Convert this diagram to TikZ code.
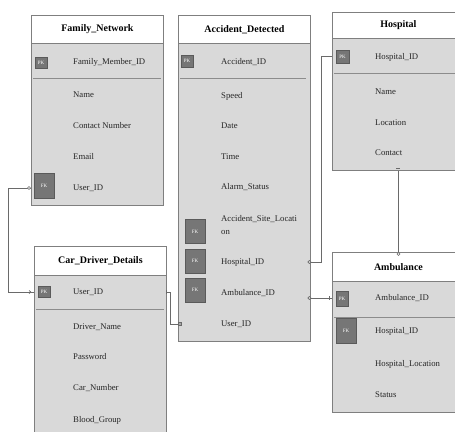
\documentclass[tikz,border=0pt]{standalone}
\usepackage{fontspec}
\setmainfont{Liberation Serif}
\usetikzlibrary{arrows.meta}
\definecolor{bodyfill}{HTML}{D9D9D9}
\definecolor{edgec}{HTML}{7F7F7F}
\definecolor{keyfill}{HTML}{767676}
\definecolor{keyedge}{HTML}{5A5A5A}
\definecolor{connc}{HTML}{6A6A6A}
\definecolor{sepc}{HTML}{8C8C8C}
\tikzset{
  ebody/.style={draw=edgec, fill=bodyfill, line width=0.9pt, inner sep=0pt, anchor=north west, minimum width=132pt},
  ehead/.style={draw=edgec, fill=white, line width=0.9pt, inner sep=0pt, anchor=north west, minimum width=132pt,
                font=\bfseries\fontsize{10}{11}\selectfont},
  fld/.style={anchor=west, inner sep=0pt, font=\fontsize{8.7}{10}\selectfont, text=black!85},
  keysmall/.style={fill=keyfill, draw=keyedge, line width=0.6pt, text=white, inner sep=0pt,
                   font=\fontsize{5}{5}\selectfont, minimum width=12pt, minimum height=12pt},
  keybig/.style={keysmall, minimum width=20pt, minimum height=24pt},
  sepline/.style={draw=sepc, line width=0.9pt},
  conn/.style={draw=connc, line width=0.7pt},
  mcirc/.style={draw=connc, fill=white, line width=0.6pt},
  msq/.style={draw=connc, fill=connc!60, line width=0.5pt},
}
\begin{document}
\begin{tikzpicture}[x=1pt,y=-1pt]
\useasboundingbox (0,0) rectangle (455,431);

% ---------- Family_Network ----------
\node[ebody, minimum height=190pt] (fam) at (31,15) {};
\node[ehead, minimum height=28pt] (famh) at (31,15) {Family\_Network};
\draw[sepline] (33,78) -- (161,78);
\node[keysmall, minimum height=11pt] (famk1) at (41,62.5) {PK};
\node[fld] (famf1) at (73,62) {Family\_Member\_ID};
\node[fld] (famf2) at (73,95) {Name};
\node[fld] (famf3) at (73,126) {Contact Number};
\node[fld] (famf4) at (73,157) {Email};
\node[keybig, minimum height=25pt] (famk2) at (44,185.5) {FK};
\node[fld] (famf5) at (73,188) {User\_ID};

% ---------- Accident_Detected ----------
\node[ebody, minimum height=326pt] (acc) at (178,15) {};
\node[ehead, minimum height=28pt] (acch) at (178,15) {Accident\_Detected};
\draw[sepline] (180,78) -- (306,78);
\node[keysmall] (acck1) at (187,61) {PK};
\node[fld] (accf1) at (221,62) {Accident\_ID};
\node[fld] (accf2) at (221,96) {Speed};
\node[fld] (accf3) at (221,126) {Date};
\node[fld] (accf4) at (221,157) {Time};
\node[fld] (accf5) at (221,187) {Alarm\_Status};
\node[fld, align=left, font=\fontsize{8.7}{13}\selectfont] (accf6) at (221,225.5) {Accident\_Site\_Locati\\on};
\node[keybig] (acck2) at (195,231.5) {FK};
\node[keybig] (acck3) at (195,261) {FK};
\node[fld] (accf7) at (221,262) {Hospital\_ID};
\node[keybig] (acck4) at (195,290) {FK};
\node[fld] (accf8) at (221,293) {Ambulance\_ID};
\node[fld] (accf9) at (221,324) {User\_ID};

% ---------- Hospital ----------
\node[ebody, minimum height=158pt] (hos) at (332,12) {};
\node[ehead, minimum height=26pt] (hosh) at (332,12) {Hospital};
\draw[sepline] (334,73) -- (455,73);
\node[keysmall, minimum width=13pt, minimum height=13pt] (hosk1) at (342.5,56.5) {PK};
\node[fld] (hosf1) at (375,57) {Hospital\_ID};
\node[fld] (hosf2) at (375,92) {Name};
\node[fld] (hosf3) at (375,123) {Location};
\node[fld] (hosf4) at (375,153) {Contact};

% ---------- Ambulance ----------
\node[ebody, minimum height=160pt] (amb) at (332,252) {};
\node[ehead, minimum height=29pt] (ambh) at (332,252) {Ambulance};
\draw[sepline] (334,317) -- (455,317);
\node[keysmall, minimum height=15pt] (ambk1) at (342,299) {PK};
\node[fld] (ambf1) at (375,298) {Ambulance\_ID};
\node[keybig, minimum height=25pt] (ambk2) at (346,330.5) {FK};
\node[fld] (ambf2) at (375,331) {Hospital\_ID};
\node[fld] (ambf3) at (375,364) {Hospital\_Location};
\node[fld] (ambf4) at (375,395) {Status};

% ---------- Car_Driver_Details ----------
\node[ebody, minimum height=190pt] (car) at (34,246) {};
\node[ehead, minimum height=29pt] (carh) at (34,246) {Car\_Driver\_Details};
\draw[sepline] (36,309) -- (164,309);
\node[keysmall, minimum height=11pt] (cark1) at (44,291.5) {PK};
\node[fld] (carf1) at (73,292) {User\_ID};
\node[fld] (carf2) at (73,327) {Driver\_Name};
\node[fld] (carf3) at (73,357) {Password};
\node[fld] (carf4) at (73,388) {Car\_Number};
\node[fld] (carf5) at (73,420) {Blood\_Group};

% ---------- connectors ----------
% Family_Network.User_ID -> Car_Driver_Details.User_ID
\draw[conn] (fam.west |- famf5) -- ++(-23,0) |- (car.west |- carf1);
\draw[mcirc] ([xshift=-2pt]fam.west |- famf5) circle (1.5pt);
\draw[conn] ([xshift=-3pt]car.west |- carf1) -- ++(-2,-1.5) ([xshift=-3pt]car.west |- carf1) -- ++(-2,1.5);

% Car_Driver_Details.User_ID -> Accident_Detected.User_ID
\draw[conn] (car.east |- carf1) -- ++(3,0) |- (acc.west |- accf9);
\draw[conn] ([xshift=-1pt]car.east |- carf1) ++(0,-2) -- ++(0,4);
\draw[msq] ([xshift=1.5pt]acc.west |- accf9) ++(-1.5,-1.5) rectangle ++(3,3);

% Accident_Detected.Hospital_ID -> Hospital.Hospital_ID
\draw[conn] (acc.east |- accf7) -- ++(10,0) |- (hos.west |- hosk1);
\draw[mcirc] ([xshift=-1.5pt]acc.east |- accf7) circle (1.5pt);

% Accident_Detected.Ambulance_ID -> Ambulance.Ambulance_ID
\draw[conn] (acc.east |- ambf1) -- (amb.west |- ambf1);
\draw[mcirc] ([xshift=-1.5pt]acc.east |- ambf1) circle (1.5pt);
\draw[conn] ([xshift=-3pt]amb.west |- ambf1) ++(0,-2) -- ++(0,4);

% Hospital -> Ambulance
\draw[conn] (hos.south) -- (amb.north);
\draw[conn] ([yshift=3pt]hos.south) ++(-2,0) -- ++(4,0);
\draw[mcirc] ([yshift=-2pt]amb.north) circle (1.5pt);
\end{tikzpicture}
\end{document}
